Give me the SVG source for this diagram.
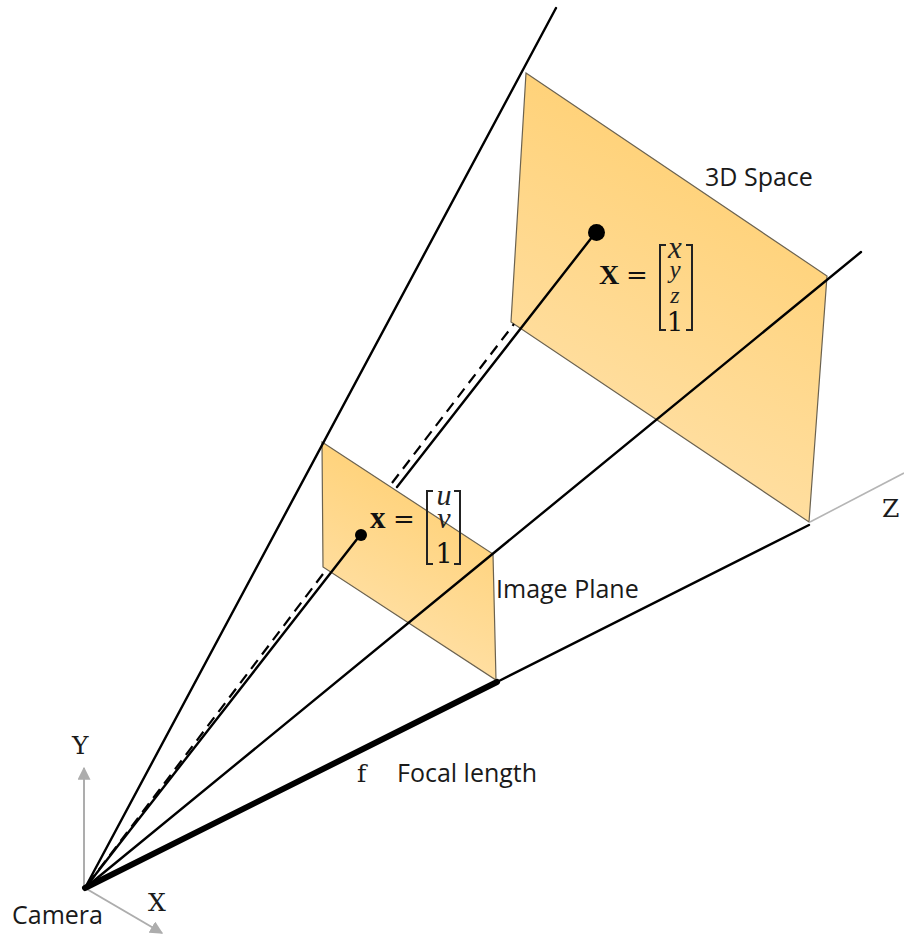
<svg xmlns="http://www.w3.org/2000/svg" width="904" height="936" viewBox="0 0 904 936">
<style>
.ray{stroke:#000;stroke-width:2.4;fill:none;stroke-linecap:round}
.dash{stroke:#000;stroke-width:2.2;fill:none;stroke-dasharray:11 7}
.plane{stroke:#6b6250;stroke-width:1.2}
.axis{stroke:#adadad;stroke-width:2;fill:none}
.lab{font-family:"Open Sans","Noto Sans",sans-serif;font-size:25px;fill:#1a1a1a}
.ser{font-family:"DejaVu Serif","Liberation Serif",serif;font-size:25px;fill:#1a1a1a}
.b{font-family:"Liberation Serif","DejaVu Serif",serif;font-weight:bold;fill:#111}
.eq{font-family:"DejaVu Serif","Liberation Serif",serif;font-size:26px;fill:#111}
.mx{font-family:"Liberation Serif","DejaVu Serif",serif;font-style:italic;fill:#222;text-anchor:middle}
.one{font-family:"DejaVu Serif","Liberation Serif",serif;font-style:normal;fill:#111}
.br{stroke:#222;stroke-width:2;fill:none}
</style>
<defs>
<linearGradient id="g1" gradientUnits="userSpaceOnUse" x1="720" y1="150" x2="560" y2="440"><stop offset="0" stop-color="#ffd176"/><stop offset="1" stop-color="#ffe0a6"/></linearGradient>
<linearGradient id="g2" gradientUnits="userSpaceOnUse" x1="440" y1="480" x2="360" y2="630"><stop offset="0" stop-color="#ffd176"/><stop offset="1" stop-color="#ffe0a6"/></linearGradient>
<marker id="ah" viewBox="0 0 10 10" refX="9" refY="5" markerWidth="6.5" markerHeight="6.5" orient="auto"><path d="M0 0L10 5L0 10z" fill="#adadad"/></marker>
</defs>
<g id="plane-3d"><polygon class="plane" points="526,73 827,276 809,522 511,322" fill="url(#g1)"/></g>
<g id="plane-image"><polygon class="plane" points="322,442 493,554 496,680 323,567" fill="url(#g2)"/></g>
<g id="connectors">
<line class="axis" x1="84" y1="888" x2="84" y2="768" marker-end="url(#ah)"/>
<line class="axis" x1="85" y1="888" x2="162" y2="933" marker-end="url(#ah)"/>
<line x1="810" y1="522" x2="904" y2="473" stroke="#b5b5b5" stroke-width="1.6"/>
<line class="ray" x1="85" y1="888" x2="556" y2="8"/>
<line class="ray" x1="85" y1="888" x2="861" y2="252"/>
<line class="ray" x1="85" y1="888" x2="361" y2="534"/>
<line class="ray" x1="397" y1="487" x2="596" y2="232"/>
<line class="dash" x1="88" y1="884" x2="326" y2="570"/>
<line class="dash" x1="392" y1="483" x2="514" y2="324"/>
<line x1="85" y1="888" x2="497" y2="682" stroke="#000" stroke-width="6" stroke-linecap="round"/>
<line class="ray" x1="497" y1="682" x2="809" y2="525"/>
</g>
<g id="point-3d"><circle cx="596.500" cy="232.500" r="8.500" fill="#000"/></g>
<g id="point-image"><circle cx="361" cy="535" r="6" fill="#000"/></g>
<g id="eq-3d">
<text class="b" x="599" y="284" font-size="28">X</text>
<text class="eq" x="626" y="284">=</text>
<path class="br" d="M666 245H660V330H666M686 245H692V330H686"/>
<text class="mx"><tspan x="675" y="258" font-size="31">x</tspan><tspan x="675" y="278" font-size="25">y</tspan><tspan x="675" y="303" font-size="24">z</tspan><tspan class="one" x="675" y="331" font-size="26">1</tspan></text>
</g>
<g id="eq-image">
<text class="b" x="370" y="528" font-size="31">x</text>
<text class="eq" x="393" y="528">=</text>
<path class="br" d="M433 491H427V564H433M454 491H460V564H454"/>
<text class="mx"><tspan x="444" y="505" font-size="30">u</tspan><tspan x="444" y="528" font-size="30">v</tspan><tspan class="one" x="444" y="563" font-size="27">1</tspan></text>
</g>
<g id="labels">
<text class="lab" x="705" y="186">3D Space</text>
<text class="lab" x="496" y="598">Image Plane</text>
<text class="lab" x="397" y="782">Focal length</text>
<text class="lab" x="12" y="924" font-size="24.500">Camera</text>
<text class="ser" x="357" y="782">f</text>
<text class="ser" x="72" y="754">Y</text>
<text class="ser" x="148" y="911">X</text>
<text class="ser" x="882" y="517">Z</text>
</g>
</svg>
